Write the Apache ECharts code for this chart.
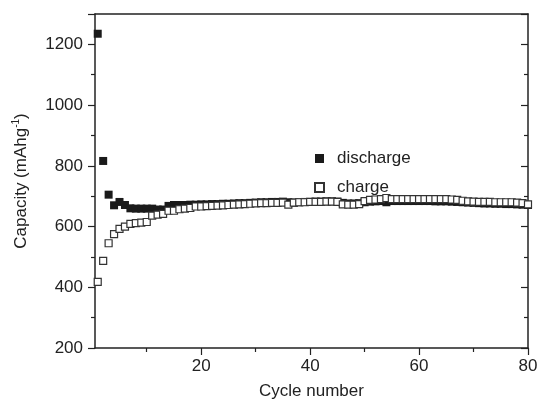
<!DOCTYPE html>
<html><head><meta charset="utf-8">
<script src="https://cdn.jsdelivr.net/npm/echarts@6/dist/echarts.min.js"></script>
<style>html,body{margin:0;padding:0;background:#fff}#c{width:539px;height:404px}</style>
</head><body><div id="c"></div>
<script>
const cycles = Array.from({length: 80}, (_, i) => i + 1);
const discharge = [1235,816,705,670,681,671,660,659,659,659,659,656,656,668,671,671,671,672,672,673,
673,674,674,675,675,676,677,677,678,679,680,680,681,681,682,680,679,680,681,681,
682,682,683,683,682,678,676,676,677,680,682,683,684,680,684,684,684,684,684,684,
684,684,683,683,683,682,681,680,679,678,677,676,676,675,675,674,674,673,672,671];
const charge = [418,487,545,575,592,600,609,611,613,615,636,639,642,652,652,657,659,661,666,666,
667,668,669,670,671,672,673,674,675,676,677,677,678,678,679,672,679,680,680,681,
681,681,682,682,681,673,672,672,674,684,688,689,690,694,690,690,690,690,690,690,
690,690,690,690,690,689,688,685,683,682,681,681,681,680,680,680,680,679,677,673];
const xTicks = [20, 40, 60, 80];
const xMinor = [10, 30, 50, 70];
const yTicks = [200, 400, 600, 800, 1000, 1200];

const font = 'Liberation Sans, Arial, sans-serif';
const axisCol = '#222';
const chart = echarts.init(document.getElementById('c'));
chart.setOption({
  animation: false,
  grid: {left: 95, right: 11, top: 14, bottom: 56, outerBoundsMode: 'none', containLabel: false},
  legend: {
    orient: 'vertical', left: 309, top: 145, itemGap: 12,
    itemWidth: 9, itemHeight: 9,
    textStyle: {fontFamily: font, fontSize: 17, color: '#222', padding: [0, 0, 0, 8]},
    data: [{name: 'discharge', icon: 'rect'}, {name: 'charge', icon: 'rect'}]
  },
  xAxis: [{
    type: 'value', min: 0.5, max: 80, position: 'bottom',
    name: 'Cycle number', nameLocation: 'middle', nameGap: 35,
    nameTextStyle: {fontFamily: font, fontSize: 17, color: '#222'},
    axisLine: {onZero: false, lineStyle: {color: axisCol, width: 1.5}},
    axisTick: {customValues: xTicks, length: 7, lineStyle: {color: axisCol, width: 1.2}},
    axisLabel: {customValues: xTicks, fontFamily: font, fontSize: 17, color: '#222', margin: 10},
    splitLine: {show: false}
  }, {
    type: 'value', min: 0.5, max: 80, position: 'bottom',
    axisLine: {show: false},
    axisTick: {customValues: xMinor, length: 4, lineStyle: {color: axisCol, width: 1.2}},
    axisLabel: {show: false},
    splitLine: {show: false}
  }, {
    type: 'value', min: 0.5, max: 80, position: 'top',
    axisLine: {onZero: false, lineStyle: {color: axisCol, width: 1.5}},
    axisTick: {show: false}, axisLabel: {show: false}, splitLine: {show: false}
  }],
  yAxis: [{
    type: 'value', min: 200, max: 1300, interval: 200, position: 'left',
    name: 'Capacity (mAhg{s|-1})', nameLocation: 'middle', nameGap: 64, nameRotate: 90,
    nameTextStyle: {fontFamily: font, fontSize: 17, color: '#222', lineHeight: 20,
      rich: {s: {fontFamily: font, fontSize: 10, color: '#222', verticalAlign: 'top', lineHeight: 20}}},
    axisLine: {onZero: false, lineStyle: {color: axisCol, width: 1.5}},
    axisTick: {length: 7, lineStyle: {color: axisCol, width: 1.2}},
    minorTick: {show: true, splitNumber: 2, length: 4, lineStyle: {color: axisCol, width: 1.2}},
    axisLabel: {fontFamily: font, fontSize: 17, color: '#222', margin: 12,
      formatter: v => yTicks.includes(v) ? String(v) : ''},
    splitLine: {show: false}
  }, {
    type: 'value', min: 200, max: 1300, interval: 200, position: 'right',
    axisLine: {onZero: false, lineStyle: {color: axisCol, width: 1.5}},
    axisTick: {inside: true, length: 7, lineStyle: {color: axisCol, width: 1.2}},
    minorTick: {show: true, splitNumber: 2, length: 4, lineStyle: {color: axisCol, width: 1.2}},
    axisLabel: {show: false}, splitLine: {show: false}
  }],
  series: [{
    name: 'discharge', type: 'scatter', symbol: 'rect', symbolSize: 8,
    itemStyle: {color: '#1a1a1a', opacity: 1},
    data: cycles.map((c, i) => [c, discharge[i]]), z: 2
  }, {
    name: 'charge', type: 'scatter', symbol: 'rect', symbolSize: 7,
    itemStyle: {color: '#fff', borderColor: '#333', borderWidth: 1.2, opacity: 1},
    data: cycles.map((c, i) => [c, charge[i]]), z: 3
  }]
});
</script></body></html>
